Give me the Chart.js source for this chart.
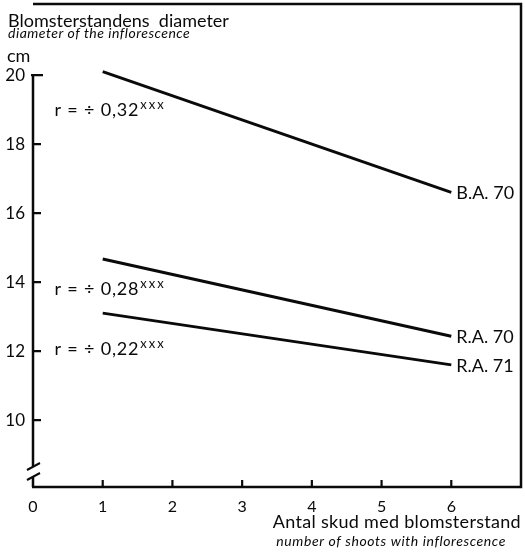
<!DOCTYPE html>
<html>
<head>
<meta charset="utf-8">
<script src="https://cdn.jsdelivr.net/npm/chart.js@4/dist/chart.umd.min.js"></script>
<style>
  body { margin: 0; background: #fff; }
  canvas { display: block; }
</style>
</head>
<body>
<canvas id="chart1" width="525" height="557"></canvas>
<script>
// values
const xValues = [1, 6];
const baValues = [20.1, 16.6];
const ra70Values = [14.67, 12.43];
const ra71Values = [13.1, 11.6];
const seriesLabels = ["B.A. 70", "R.A. 70", "R.A. 71"];
const rValues = ["0,32", "0,28", "0,22"];
const xTicks = [0, 1, 2, 3, 4, 5, 6];
const yTicks = [10, 12, 14, 16, 18, 20];

const ink = "#0a0a0a";
const font = "Lato";

const makeDataset = (label, ys) => ({
    label,
    data: xValues.map((x, i) => ({ x, y: ys[i] })),
    borderColor: ink,
    borderWidth: 3,
    pointRadius: 0,
    showLine: true,
});

// where the r = ... notes sit, in data units
const rNotes = [
    { x: 0.31, y: 18.98, text: rValues[0] },
    { x: 0.31, y: 13.8, text: rValues[1] },
    { x: 0.31, y: 12.06, text: rValues[2] },
];

const decorations = {
    id: "decorations",
    afterDatasetsDraw(chart) {
        const { ctx, chartArea: a, scales: { x, y } } = chart;
        ctx.save();
        ctx.strokeStyle = ink;
        ctx.fillStyle = ink;
        ctx.lineWidth = 2.5;
        ctx.lineCap = "butt";

        // frame: top, right, bottom
        ctx.beginPath();
        ctx.moveTo(a.left, a.top);
        ctx.lineTo(a.right, a.top);
        ctx.lineTo(a.right, a.bottom);
        ctx.lineTo(a.left - 1, a.bottom);
        ctx.stroke();

        // left axis from 20 down, with a break
        const y20 = y.getPixelForValue(20);
        ctx.beginPath();
        ctx.moveTo(a.left, y20 - 1);
        ctx.lineTo(a.left, a.bottom - 21);
        ctx.moveTo(a.left, a.bottom - 10);
        ctx.lineTo(a.left, a.bottom);
        ctx.stroke();
        ctx.lineWidth = 2;
        ctx.beginPath();
        ctx.moveTo(a.left - 6, a.bottom - 17);
        ctx.lineTo(a.left + 7, a.bottom - 24);
        ctx.moveTo(a.left - 6, a.bottom - 7);
        ctx.lineTo(a.left + 7, a.bottom - 14);
        ctx.stroke();

        // inward ticks
        ctx.lineWidth = 2.2;
        ctx.beginPath();
        yTicks.forEach((v) => {
            const py = y.getPixelForValue(v);
            ctx.moveTo(v === 20 ? a.left - 2 : a.left, py);
            ctx.lineTo(a.left + (v === 20 ? 10 : 8), py);
        });
        xTicks.slice(1).forEach((v) => {
            const px = x.getPixelForValue(v);
            ctx.moveTo(px, a.bottom);
            ctx.lineTo(px, a.bottom - 7);
        });
        ctx.stroke();

        // series labels at line ends
        ctx.font = `18px ${font}`;
        ctx.textBaseline = "middle";
        ctx.textAlign = "left";
        chart.data.datasets.forEach((ds) => {
            const last = ds.data[ds.data.length - 1];
            ctx.fillText(ds.label, x.getPixelForValue(last.x) + 5, y.getPixelForValue(last.y) + 1);
        });

        // correlation notes
        rNotes.forEach((n) => {
            const px = x.getPixelForValue(n.x);
            const py = y.getPixelForValue(n.y);
            ctx.font = `18px ${font}`;
            ctx.letterSpacing = "0.8px";
            const main = `r = \u00f7 ${n.text}`;
            ctx.fillText(main, px, py);
            const w = ctx.measureText(main).width;
            ctx.font = `13px ${font}`;
            ctx.letterSpacing = "2px";
            ctx.fillText("xxx", px + w + 1, py - 5);
        });

        // titles
        ctx.textBaseline = "alphabetic";
        ctx.letterSpacing = "0px";
        ctx.font = `18px ${font}`;
        ctx.fillText("Blomsterstandens  diameter", 8, 27);
        ctx.font = `italic 14px ${font}`;
        ctx.letterSpacing = "0.5px";
        ctx.fillText("diameter of the inflorescence", 8, 38);
        ctx.letterSpacing = "0px";
        ctx.font = `18px ${font}`;
        ctx.fillText("cm", 7, 62);

        ctx.textAlign = "right";
        ctx.font = `18px ${font}`;
        ctx.letterSpacing = "0.3px";
        ctx.fillText("Antal skud med blomsterstand", 521, 528);
        ctx.font = `italic 14px ${font}`;
        ctx.letterSpacing = "0.6px";
        ctx.fillText("number of shoots with inflorescence", 506, 546);
        ctx.restore();
    },
};

new Chart(document.getElementById("chart1"), {
    type: "scatter",
    data: {
        datasets: [
            makeDataset(seriesLabels[0], baValues),
            makeDataset(seriesLabels[1], ra70Values),
            makeDataset(seriesLabels[2], ra71Values),
        ],
    },
    options: {
        responsive: false,
        animation: false,
        layout: { padding: { top: 4, right: 4, left: 0, bottom: 0 } },
        plugins: {
            legend: { display: false },
            tooltip: { enabled: false },
        },
        scales: {
            x: {
                type: "linear",
                min: 0,
                max: 7,
                afterBuildTicks: (scale) => {
                    scale.ticks = xTicks.map((value) => ({ value }));
                },
                afterFit: (scale) => {
                    scale.height = 70;
                    scale.paddingLeft = 0;
                    scale.paddingRight = 0;
                },
                grid: { display: false, drawTicks: false },
                border: { display: false },
                ticks: {
                    color: ink,
                    padding: 10,
                    font: { family: font, size: 16 },
                },
            },
            y: {
                type: "linear",
                min: 8.06,
                max: 22.06,
                afterBuildTicks: (scale) => {
                    scale.ticks = yTicks.map((value) => ({ value }));
                },
                afterFit: (scale) => {
                    scale.width = 33;
                    scale.paddingTop = 0;
                    scale.paddingBottom = 0;
                },
                grid: { display: false, drawTicks: false },
                border: { display: false },
                ticks: {
                    color: ink,
                    padding: 8,
                    font: { family: font, size: 17 },
                },
            },
        },
    },
    plugins: [decorations],
});
</script>
</body>
</html>
